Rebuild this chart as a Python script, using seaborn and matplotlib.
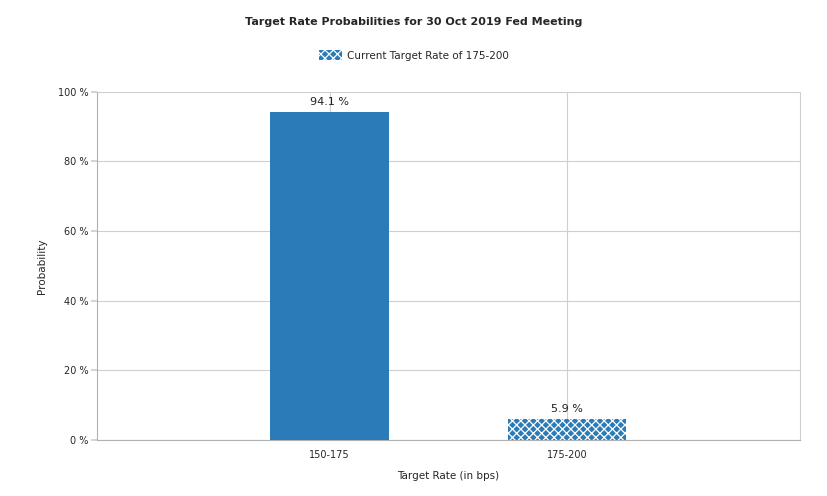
import matplotlib
matplotlib.use('Agg')
import matplotlib.pyplot as plt
import pandas as pd
import seaborn as sns
from matplotlib.patches import Patch

# data
rates = ['150-175', '175-200']
probs = [94.1, 5.9]
current_rate = '175-200'
yticks = [0, 20, 40, 60, 80, 100]

BLUE = '#2b7bb9'
GRID = '#cfcfcf'

sns.set_theme(style='white')
plt.rcParams['font.family'] = ['DejaVu Sans']
plt.rcParams['hatch.linewidth'] = 0.9

df = pd.DataFrame({'rate': rates, 'prob': probs})

fig = plt.figure(figsize=(8.28, 4.96), dpi=100)
ax = fig.add_axes([0.117, 0.113, 0.849, 0.702])

sns.barplot(data=df, x='rate', y='prob', color=BLUE, width=0.5,
            saturation=1, ax=ax, zorder=3)

for patch, rate in zip(ax.patches, rates):
    patch.set_linewidth(0)
    if rate == current_rate:
        patch.set_hatch('xxxx')
        patch.set_edgecolor('white')

for i, p in enumerate(probs):
    ax.text(i, p + 1.5, f'{p} %', ha='center', va='bottom', fontsize=8, color='#222222')

ax.set_xlim(-0.98, 1.98)
ax.set_ylim(0, 100)
ax.set_yticks(yticks)
ax.set_yticklabels([f'{t} %' for t in yticks], fontsize=7)
ax.tick_params(axis='x', labelsize=7, length=4, color=GRID, pad=3)
ax.tick_params(axis='y', length=4, color=GRID, pad=2, left=True)
ax.set_xticks([0, 1])

ax.grid(True, axis='y', color=GRID, linewidth=0.8, zorder=0)
ax.grid(True, axis='x', color=GRID, linewidth=0.8, zorder=0)
ax.axvline(1.98, color=GRID, linewidth=0.8, zorder=0, clip_on=False)
for side in ['top', 'right']:
    ax.spines[side].set_visible(False)
for side in ['left', 'bottom']:
    ax.spines[side].set_color('#b0b0b0')
    ax.spines[side].set_linewidth(0.8)

ax.set_xlabel('Target Rate (in bps)', fontsize=7.5, labelpad=8)
ax.set_ylabel('Probability', fontsize=7.5, labelpad=8)

fig.suptitle('Target Rate Probabilities for 30 Oct 2019 Fed Meeting',
             fontsize=8, fontweight='bold', y=0.965)

handle = Patch(facecolor=BLUE, edgecolor='white', hatch='xxxx', linewidth=0)
fig.legend(handles=[handle], labels=[f'Current Target Rate of {current_rate}'],
           loc='center', bbox_to_anchor=(0.5, 0.888), frameon=False,
           fontsize=7.5, handlelength=2.2, handleheight=1.0, handletextpad=0.5)

fig.savefig('out.png', dpi=100)
